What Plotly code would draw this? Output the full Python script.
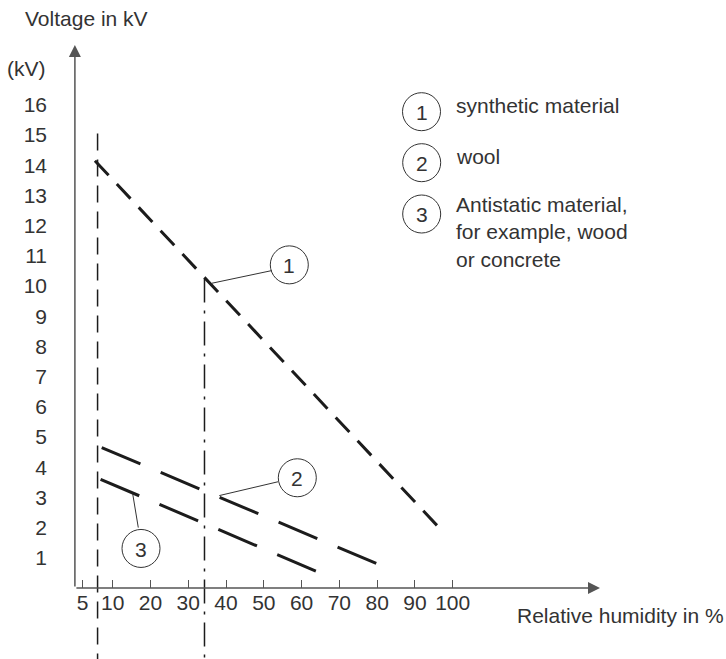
import plotly.graph_objects as go

# Figure geometry (pixels)
W, H = 726, 659
PX_PER_PCT = 3.778     # horizontal pixels per % humidity
PX_PER_KV = 30.2       # vertical pixels per kV
ORIGIN_PX = (74.9, 588.0)

# Characteristic curves: relative humidity (%) vs. electrostatic voltage (kV)
synthetic_rh = [5.3, 96.0]
synthetic_kv = [14.15, 2.05]
wool_rh = [7.1, 80.0]
wool_kv = [4.65, 0.8]
antistatic_rh = [6.8, 64.0]
antistatic_kv = [3.6, 0.55]

# Reference humidity markers
marker_rh = [6.0, 34.3]
marker_top_kv = [15.05, 10.25]

# Axis tick labels
x_tick_pos = [2.06, 10, 20, 30, 40, 50, 60, 70, 80, 90, 100]
x_tick_text = ["5", "10", "20", "30", "40", "50", "60", "70", "80", "90", "100"]
y_tick_vals = list(range(1, 17))

legend_items = ["synthetic material", "wool",
                "Antistatic material,<br>for example, wood<br>or concrete"]

FONT = "Liberation Sans, Arial, sans-serif"
FS = 21
TXT = "#333333"
INK = "#1c1c1c"
AXIS = "#555555"

x_min = -ORIGIN_PX[0] / PX_PER_PCT
x_max = (W - ORIGIN_PX[0]) / PX_PER_PCT
y_min = -(H - ORIGIN_PX[1]) / PX_PER_KV
y_max = ORIGIN_PX[1] / PX_PER_KV


def px_x(v):
    return (v - ORIGIN_PX[0]) / PX_PER_PCT


def px_y(v):
    return (ORIGIN_PX[1] - v) / PX_PER_KV


fig = go.Figure()

# Reference humidity verticals
fig.add_trace(go.Scatter(x=[marker_rh[0], marker_rh[0]], y=[marker_top_kv[0], y_min],
                         mode="lines", line=dict(color=INK, width=1.5, dash="17px,9px"),
                         hoverinfo="skip"))
fig.add_trace(go.Scatter(x=[marker_rh[1], marker_rh[1]], y=[marker_top_kv[1], y_min],
                         mode="lines", line=dict(color=INK, width=1.5, dash="24px,8px,3px,8px"),
                         hoverinfo="skip"))

# Material curves
fig.add_trace(go.Scatter(x=synthetic_rh, y=synthetic_kv, mode="lines",
                         line=dict(color=INK, width=3, dash="20px,12px"), hoverinfo="skip"))
fig.add_trace(go.Scatter(x=wool_rh, y=wool_kv, mode="lines",
                         line=dict(color=INK, width=3, dash="42px,22px"), hoverinfo="skip"))
fig.add_trace(go.Scatter(x=antistatic_rh, y=antistatic_kv, mode="lines",
                         line=dict(color=INK, width=3, dash="42px,22px"), hoverinfo="skip"))

shapes = []
annotations = []

# Axis lines with arrowheads
annotations.append(dict(x=px_x(600), y=0, ax=0, ay=0, xref="x", yref="y",
                        axref="x", ayref="y", text="", showarrow=True,
                        arrowhead=2, arrowsize=1.6, arrowwidth=1.5, arrowcolor=AXIS,
                        standoff=0))
annotations.append(dict(x=0, y=px_y(45), ax=0, ay=0, xref="x", yref="y",
                        axref="x", ayref="y", text="", showarrow=True,
                        arrowhead=2, arrowsize=1.6, arrowwidth=1.5, arrowcolor=AXIS,
                        standoff=0))


def circle(cx, cy, label, xref="x", yref="y", r=19):
    shapes.append(dict(type="circle", xref=xref, yref=yref, xsizemode="pixel",
                       ysizemode="pixel", xanchor=cx, yanchor=cy,
                       x0=-r, x1=r, y0=-r, y1=r,
                       line=dict(color=TXT, width=1)))
    annotations.append(dict(x=cx, y=cy, xref=xref, yref=yref, text=label,
                            showarrow=False, font=dict(family=FONT, size=FS, color=TXT),
                            xanchor="center", yanchor="middle", yshift=-1))


def leader(x0, y0, x1, y1):
    shapes.append(dict(type="line", xref="x", yref="y", x0=x0, y0=y0, x1=x1, y1=y1,
                       line=dict(color=TXT, width=1)))


# Callouts on the curves
leader(52.1, 10.51, 36.2, 10.09)
circle(56.75, 10.70, "1")
leader(53.84, 3.52, 38.22, 3.06)
circle(58.87, 3.65, "2")
leader(16.78, 2.0, 15.3, 3.12)
circle(17.5, 1.31, "3")

# Key
key_px = [(421.5, 111.7), (421.7, 162.7), (421.7, 214.0)]
key_text_y = [105, 156.7, 232.3]
for i, (cx, cy) in enumerate(key_px):
    circle(cx / W, 1 - cy / H, str(i + 1), xref="paper", yref="paper")
    annotations.append(dict(x=454 / W, y=1 - key_text_y[i] / H, xref="paper", yref="paper",
                            text=legend_items[i], showarrow=False, align="left",
                            xanchor="left", yanchor="middle",
                            font=dict(family=FONT, size=FS, color=TXT)))

# Axis titles
annotations.append(dict(x=23 / W, y=1 - 19 / H, xref="paper", yref="paper",
                        text="Voltage in kV", showarrow=False, xanchor="left",
                        yanchor="middle", font=dict(family=FONT, size=FS, color=TXT)))
annotations.append(dict(x=5 / W, y=1 - 68 / H, xref="paper", yref="paper",
                        text="(kV)", showarrow=False, xanchor="left",
                        yanchor="middle", font=dict(family=FONT, size=FS, color=TXT)))
annotations.append(dict(x=515 / W, y=1 - 615 / H, xref="paper", yref="paper",
                        text="Relative humidity in %", showarrow=False, xanchor="left",
                        yanchor="middle", font=dict(family=FONT, size=FS, color=TXT)))

fig.update_layout(
    width=W, height=H,
    margin=dict(l=0, r=0, t=0, b=0),
    paper_bgcolor="white", plot_bgcolor="white",
    showlegend=False,
    shapes=shapes, annotations=annotations,
    xaxis=dict(range=[x_min, x_max], domain=[0, 1], anchor="free",
               position=1 - ORIGIN_PX[1] / H,
               tickmode="array", tickvals=x_tick_pos, ticktext=x_tick_text,
               ticks="inside", ticklen=8, tickwidth=1, tickcolor=AXIS,
               showline=False, showgrid=False, zeroline=False,
               tickfont=dict(family=FONT, size=FS, color=TXT)),
    yaxis=dict(range=[y_min, y_max], domain=[0, 1], anchor="free",
               position=47 / W,
               tickmode="array", tickvals=y_tick_vals,
               ticks="", showline=False, showgrid=False, zeroline=False,
               tickfont=dict(family=FONT, size=FS, color=TXT)),
)

fig.write_html("out.html")
